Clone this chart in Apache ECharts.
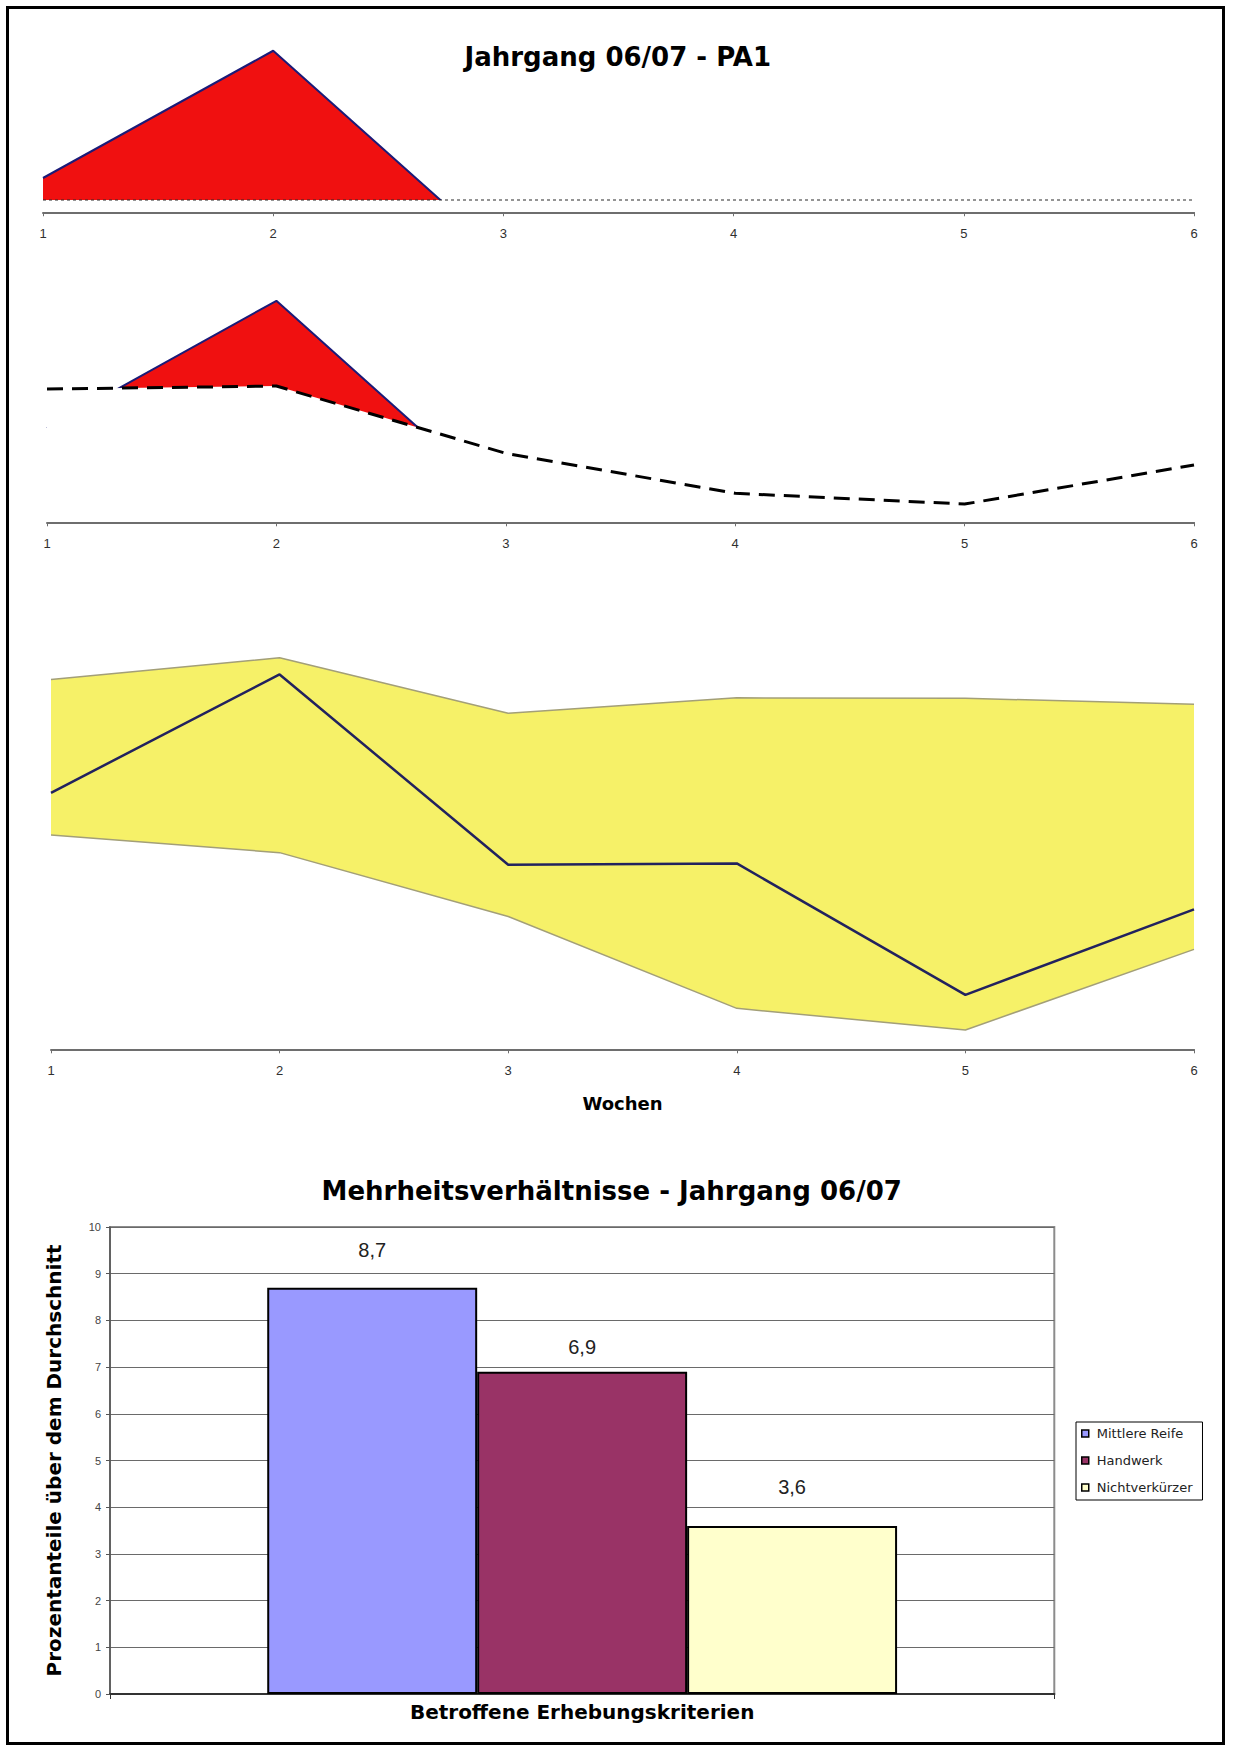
<!DOCTYPE html>
<html>
<head>
<meta charset="utf-8">
<script src="https://cdn.jsdelivr.net/npm/echarts@6/dist/echarts.min.js"></script>
<style>
  html, body { margin: 0; padding: 0; background: #fff; }
  #chart { width: 1239px; height: 1751px; }
</style>
</head>
<body>
<div id="chart"></div>
<script>
// Week categories shared by the three upper panels
const weeks = ['1', '2', '3', '4', '5', '6'];

// Panel 1/2: PA1 course (only weeks 1-3 rise above the reference curves)
const pa1Values = [37.7, 88.6, 6.4, null, null, null];
// Panel 1: fixed reference level (dotted)
const referenceLevel = [28.9, 28.9, 28.9, 28.9, 28.9, 28.9];
// Panel 2: moving reference curve (dashed)
const trendValues = [53.3, 54.5, 27.6, 11.6, 7.3, 22.9];

// Panel 3: spread band and weekly course
const bandUpper = [82.2, 87.0, 74.7, 78.1, 78.0, 76.7];
const bandLower = [47.6, 43.7, 29.5, 9.1, 4.3, 22.2];
const weeklyMean = [57.0, 83.3, 41.0, 41.3, 12.1, 31.1];

// Bar chart: share above average per criterion
const criteria = ['Mittlere Reife', 'Handwerk', 'Nichtverkürzer'];
const shares = [8.7, 6.9, 3.6];
const shareColors = ['#9999ff', '#993366', '#ffffcc'];
const shareLabelDistance = [28, 15, 29];

// band thickness stacked on top of the lower edge
const bandWidth = bandUpper.map((v, i) => +(v - bandLower[i]).toFixed(1));

const TICK_FONT = { fontFamily: 'Liberation Sans, Arial, sans-serif', fontSize: 13, color: '#303030' };

function weekAxis(gridIndex, extra) {
  return Object.assign({
    type: 'category',
    gridIndex: gridIndex,
    data: weeks,
    boundaryGap: false,
    z: 6,
    axisLine: { show: true, lineStyle: { color: '#6e6e6e', width: 2 } },
    axisTick: { show: true, length: 4, lineStyle: { color: '#6e6e6e', width: 1 } },
    axisLabel: Object.assign({ margin: 15 }, TICK_FONT),
    splitLine: { show: false }
  }, extra || {});
}

function hiddenValueAxis(gridIndex, min, max) {
  return { type: 'value', gridIndex: gridIndex, min: min, max: max, show: false, splitLine: { show: false } };
}

const chart = echarts.init(document.getElementById('chart'), null, { renderer: 'svg' });

const option = {
  animation: false,
  backgroundColor: '#ffffff',
  graphic: [
    {
      type: 'rect', silent: true, z: 100,
      shape: { x: 7.5, y: 7.5, width: 1216, height: 1736 },
      style: { fill: 'none', stroke: '#000', lineWidth: 3 }
    },
    {
      type: 'text', silent: true, x: 617.8, y: 57,
      style: { text: 'Jahrgang 06/07 - PA1', fontFamily: 'DejaVu Sans', fontWeight: 'bold', fontSize: 26,
               fill: '#000', align: 'center', verticalAlign: 'middle' }
    },
    {
      type: 'text', silent: true, x: 611.7, y: 1191,
      style: { text: 'Mehrheitsverhältnisse - Jahrgang 06/07', fontFamily: 'DejaVu Sans', fontWeight: 'bold', fontSize: 26,
               fill: '#000', align: 'center', verticalAlign: 'middle' }
    }
  ],
  grid: [
    { left: 43, right: 45, top: 22.25, height: 190 },
    { left: 47, right: 45, top: 272.3, height: 250 },
    { left: 51, right: 45, top: 599.3, height: 450 },
    { left: 110, right: 184.7, top: 1227, height: 467, show: true, borderColor: '#8c8c8c', borderWidth: 2, backgroundColor: 'transparent' }
  ],
  xAxis: [
    weekAxis(0),
    weekAxis(1),
    weekAxis(2, {
      name: 'Wochen', nameLocation: 'middle', nameGap: 45,
      nameTextStyle: { fontFamily: 'DejaVu Sans', fontWeight: 'bold', fontSize: 18, color: '#000' }
    }),
    {
      type: 'category', gridIndex: 3, data: [''],
      boundaryGap: true,
      axisLine: { show: true, lineStyle: { color: '#333', width: 2 } },
      axisTick: { show: true, length: 5, lineStyle: { color: '#333' } },
      axisLabel: { show: false },
      name: 'Betroffene Erhebungskriterien', nameLocation: 'middle', nameGap: 8,
      nameTextStyle: { fontFamily: 'DejaVu Sans', fontWeight: 'bold', fontSize: 20, color: '#000' }
    }
  ],
  yAxis: [
    hiddenValueAxis(0, 24, 100),
    hiddenValueAxis(1, 0, 100),
    hiddenValueAxis(2, 0, 100),
    {
      type: 'value', gridIndex: 3, min: 0, max: 10, interval: 1,
      axisLine: { show: true, lineStyle: { color: '#555', width: 1.5 } },
      axisTick: { show: true, length: 4, lineStyle: { color: '#555' } },
      axisLabel: { margin: 9, fontFamily: 'Liberation Sans, Arial, sans-serif', fontSize: 11, color: '#444' },
      splitLine: { show: true, lineStyle: { color: '#6a6a6a', width: 1 } },
      name: 'Prozentanteile über dem Durchschnitt', nameLocation: 'middle', nameRotate: 90, nameGap: 46,
      nameTextStyle: { fontFamily: 'DejaVu Sans', fontWeight: 'bold', fontSize: 20, color: '#000' }
    }
  ],
  legend: {
    orient: 'vertical',
    left: 1076, top: 1422,
    padding: [5, 10, 6, 5],
    itemGap: 14,
    itemWidth: 7, itemHeight: 7,
    icon: 'rect',
    borderColor: '#000', borderWidth: 1,
    backgroundColor: '#fff',
    itemStyle: { borderColor: '#000', borderWidth: 1.5 },
    textStyle: { fontFamily: 'DejaVu Sans', fontSize: 13, color: '#222', padding: [0, 0, 0, 3] },
    data: criteria
  },
  series: [
    // ---- panel 1: PA1 above the fixed reference level
    {
      type: 'line', name: 'PA1', xAxisIndex: 0, yAxisIndex: 0, z: 2,
      data: pa1Values, showSymbol: false, symbol: 'none',
      lineStyle: { color: '#1b1b78', width: 2 },
      areaStyle: { color: '#f01010', opacity: 1 }
    },
    {
      // the white fill hides everything of PA1 below the reference level
      type: 'line', name: 'Referenz', xAxisIndex: 0, yAxisIndex: 0, z: 3,
      data: referenceLevel, showSymbol: false, symbol: 'none',
      lineStyle: { color: '#2a2a2a', width: 1.2, type: [3, 3] },
      areaStyle: { color: '#ffffff', opacity: 1 }
    },
    // ---- panel 2: PA1 above the moving reference curve
    {
      type: 'line', name: 'PA1 ', xAxisIndex: 1, yAxisIndex: 1, z: 2,
      data: pa1Values, showSymbol: false, symbol: 'none',
      lineStyle: { color: '#1b1b78', width: 2 },
      areaStyle: { color: '#f01010', opacity: 1 }
    },
    {
      type: 'line', name: 'Verlauf', xAxisIndex: 1, yAxisIndex: 1, z: 3,
      data: trendValues, showSymbol: false, symbol: 'none',
      lineStyle: { color: '#000', width: 3, type: [16, 9] },
      areaStyle: { color: '#ffffff', opacity: 1 }
    },
    // ---- panel 3: band between lower and upper edge, with the weekly course
    {
      type: 'line', name: 'Untergrenze', xAxisIndex: 2, yAxisIndex: 2,
      data: bandLower, stack: 'band', showSymbol: false, symbol: 'none',
      lineStyle: { color: '#a39f78', width: 1.5 }
    },
    {
      type: 'line', name: 'Obergrenze', xAxisIndex: 2, yAxisIndex: 2,
      data: bandWidth, stack: 'band', showSymbol: false, symbol: 'none',
      lineStyle: { color: '#a39f78', width: 1.5 },
      areaStyle: { color: '#f6f168', opacity: 1 }
    },
    {
      type: 'line', name: 'Wochenwert', xAxisIndex: 2, yAxisIndex: 2, z: 4,
      data: weeklyMean, showSymbol: false, symbol: 'none',
      lineStyle: { color: '#22225e', width: 2.5 }
    }
  ].concat(criteria.map((name, i) => ({
    type: 'bar', name: name, xAxisIndex: 3, yAxisIndex: 3,
    data: [shares[i]],
    barGap: '0%', barCategoryGap: '33.3%',
    itemStyle: { color: shareColors[i], borderColor: '#000', borderWidth: 2 },
    label: {
      show: true, position: 'top', distance: shareLabelDistance[i],
      fontFamily: 'Liberation Sans, Arial, sans-serif', fontSize: 20, color: '#222',
      formatter: p => p.value.toFixed(1).replace('.', ',')
    }
  })))
};

chart.setOption(option);
</script>
</body>
</html>
